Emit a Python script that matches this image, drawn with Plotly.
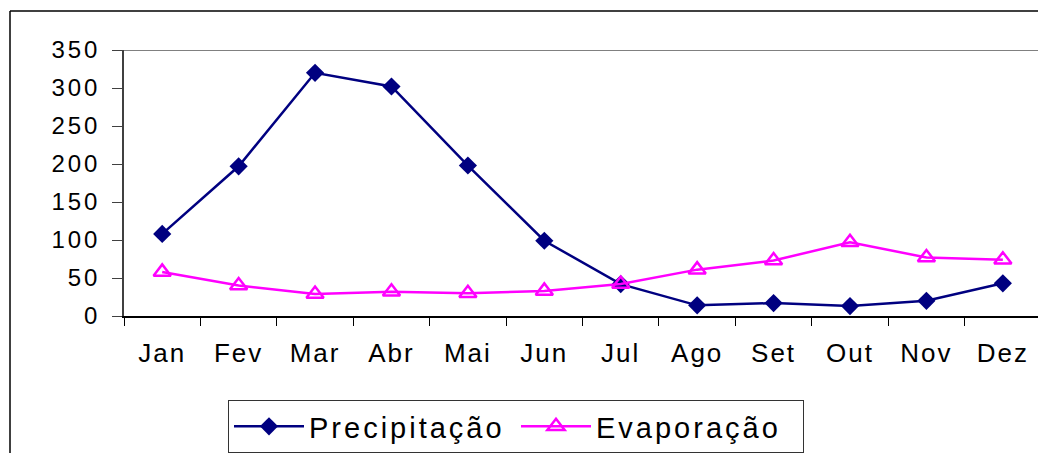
import plotly.graph_objects as go

months = ["Jan", "Fev", "Mar", "Abr", "Mai", "Jun", "Jul", "Ago", "Set", "Out", "Nov", "Dez"]
precipitacao = [108, 197, 320, 302, 198, 99, 42, 14, 17, 13, 20, 43]
evaporacao = [58, 40, 29, 32, 30, 33, 42, 61, 73, 97, 77, 74]
y_ticks = [0, 50, 100, 150, 200, 250, 300, 350]

FONT = "Liberation Sans, Arial, sans-serif"
W, H = 1038, 453
L, R, T, B = 124, 0, 50, 137
PW, PH = W - L - R, H - T - B

fig = go.Figure()
fig.add_trace(go.Scatter(
    x=months, y=precipitacao, name="Precipitação", mode="lines+markers",
    line=dict(color="#000080", width=2.5),
    marker=dict(symbol="diamond", size=14, color="#000080"),
))
fig.add_trace(go.Scatter(
    x=months, y=evaporacao, name="Evaporação", mode="lines+markers",
    line=dict(color="#FF00FF", width=2.5),
    marker=dict(symbol="triangle-up-open", size=15, color="#FF00FF",
                line=dict(color="#FF00FF", width=2.5)),
))

def px_x(px):
    return (px - L) / PW

def px_y(py):
    return (H - B - py) / PH

# top border of plot area (gray) and outer chart-area frame (black)
fig.add_shape(type="line", xref="paper", yref="y", x0=0, x1=1.02, y0=350, y1=350,
              line=dict(color="#808080", width=2), layer="below")
fig.add_shape(type="line", xref="paper", yref="paper", x0=px_x(10), x1=px_x(1045),
              y0=px_y(11), y1=px_y(11), line=dict(color="#000000", width=1.5))
fig.add_shape(type="line", xref="paper", yref="paper", x0=px_x(10), x1=px_x(10),
              y0=px_y(11), y1=px_y(460), line=dict(color="#000000", width=1.5))

fig.update_layout(
    width=W, height=H,
    margin=dict(l=L, r=R, t=T, b=B, pad=0, autoexpand=False),
    paper_bgcolor="white", plot_bgcolor="white",
    font=dict(family=FONT, color="black"),
    showlegend=True,
    hovermode=False,
    legend=dict(
        orientation="h", x=px_x(228), xanchor="left", y=px_y(400), yanchor="top",
        bgcolor="white", bordercolor="#333333", borderwidth=1,
        font=dict(family=FONT, size=29, color="black"),
        itemwidth=70, entrywidth=202, entrywidthmode="pixels",
        tracegroupgap=0,
    ),
    xaxis=dict(
        type="category", range=[-0.5, 11.46], automargin=False,
        showline=True, linecolor="#000000", linewidth=1.5,
        ticks="outside", ticklen=8, tickcolor="#000000", tickwidth=1,
        tickson="boundaries", showgrid=False, zeroline=False,
        tickfont=dict(family=FONT, size=26, color="black"),
        ticklabelstandoff=13,
    ),
    yaxis=dict(
        range=[0, 350], tickvals=y_ticks, automargin=False,
        showline=True, linecolor="#404040", linewidth=1.5,
        ticks="outside", ticklen=10, tickcolor="#404040", tickwidth=1,
        showgrid=False, zeroline=False,
        tickfont=dict(family=FONT, size=24, color="black"),
        ticklabelstandoff=7,
    ),
)

css_js = """
document.body.style.margin = '0';
var s = document.createElement('style');
s.textContent = 'body{margin:0;} .ytick text{letter-spacing:3px;} .xtick text{letter-spacing:2px;} .legendtext{letter-spacing:3px;}';
document.head.appendChild(s);
"""

fig.write_html("out.html", post_script=css_js,
               config={"displayModeBar": False, "staticPlot": False})
